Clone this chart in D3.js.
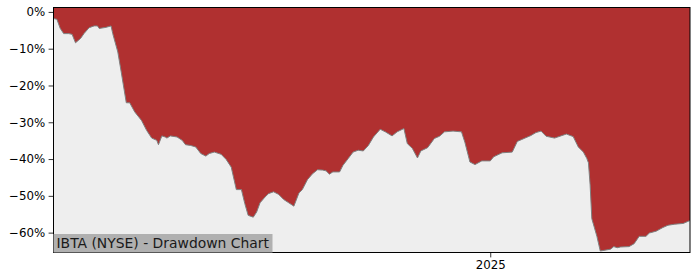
<!DOCTYPE html>
<html>
<head>
<meta charset="utf-8">
<script src="https://cdn.jsdelivr.net/npm/d3@7"></script>
<style>
  html, body { margin: 0; padding: 0; background: #ffffff; }
  svg { display: block; }
  text { font-family: "DejaVu Sans", sans-serif; }
</style>
</head>
<body>
<div id="chart"></div>
<script>
// ---- data ----
const dates = [
  "2024-04-18","2024-04-20","2024-04-22","2024-04-24","2024-04-27","2024-04-29","2024-05-01","2024-05-04",
  "2024-05-06","2024-05-09","2024-05-12","2024-05-14","2024-05-15","2024-05-19","2024-05-22","2024-05-23",
  "2024-05-26","2024-05-28","2024-05-31","2024-06-02","2024-06-05","2024-06-09","2024-06-12","2024-06-15",
  "2024-06-18","2024-06-19","2024-06-21","2024-06-23","2024-06-24","2024-06-26","2024-06-30","2024-07-03",
  "2024-07-05","2024-07-08","2024-07-11","2024-07-14","2024-07-17","2024-07-19","2024-07-22","2024-07-26",
  "2024-07-29","2024-08-01","2024-08-04","2024-08-07","2024-08-09","2024-08-11","2024-08-14","2024-08-16",
  "2024-08-18","2024-08-21","2024-08-23","2024-08-26","2024-08-29","2024-09-01","2024-09-04","2024-09-07",
  "2024-09-10","2024-09-12","2024-09-15","2024-09-18","2024-09-21","2024-09-24","2024-09-26","2024-09-28",
  "2024-09-30","2024-10-04","2024-10-06","2024-10-09","2024-10-12","2024-10-15","2024-10-18","2024-10-21",
  "2024-10-24","2024-10-28","2024-10-31","2024-11-04","2024-11-07","2024-11-11","2024-11-13","2024-11-16",
  "2024-11-19","2024-11-21","2024-11-25","2024-11-29","2024-12-02","2024-12-05","2024-12-10","2024-12-15",
  "2024-12-17","2024-12-20","2024-12-23","2024-12-27","2025-01-01","2025-01-03","2025-01-08","2025-01-14",
  "2025-01-17","2025-01-21","2025-01-25","2025-01-28","2025-01-31","2025-02-03","2025-02-08","2025-02-13",
  "2025-02-15","2025-02-19","2025-02-22","2025-02-25","2025-02-27","2025-02-28","2025-03-01","2025-03-02",
  "2025-03-05","2025-03-07","2025-03-13","2025-03-15","2025-03-17","2025-03-19","2025-03-24","2025-03-27",
  "2025-03-30","2025-04-03","2025-04-05","2025-04-09","2025-04-13","2025-04-16","2025-04-20","2025-04-25",
  "2025-04-29"
];
const drawdown = [
  -1.8, -2.0, -4.5, -5.9, -5.9, -6.1, -8.4, -7.2,
  -5.9, -4.3, -3.8, -3.8, -4.5, -4.2, -3.8, -5.9,
  -10.9, -16.3, -24.7, -24.7, -27.2, -29.5, -32.2, -34.3,
  -34.9, -36.1, -33.7, -34.0, -34.3, -33.7, -34.0, -34.9,
  -36.1, -36.3, -36.7, -38.5, -39.2, -38.5, -38.1, -38.7,
  -40.1, -42.2, -48.3, -48.3, -52.1, -55.3, -55.8, -54.4,
  -51.9, -50.3, -49.4, -48.9, -49.6, -51.0, -51.9, -52.8,
  -49.2, -48.3, -45.6, -44.0, -42.9, -43.0, -43.2, -44.1,
  -43.5, -43.5, -41.7, -39.9, -38.1, -37.6, -37.8, -36.3,
  -34.0, -31.9, -32.6, -33.7, -32.6, -31.7, -35.8, -37.1,
  -39.7, -37.8, -36.9, -34.4, -33.8, -32.6, -32.4, -32.6,
  -35.4, -40.8, -41.5, -40.5, -40.5, -39.4, -38.3, -38.1,
  -35.2, -34.4, -33.6, -32.8, -32.4, -33.8, -34.3, -33.5,
  -33.2, -33.9, -36.7, -38.1, -39.8, -41.0, -47.0, -56.2,
  -61.0, -65.0, -64.5, -63.8, -64.1, -63.9, -63.8, -63.0,
  -61.0, -61.0, -60.1, -59.6, -58.6, -58.0, -57.7, -57.5,
  -56.7
];
const yTicks = [0, -10, -20, -30, -40, -50, -60];
const xTickDates = ["2025-01-01"];
const xTickLabels = ["2025"];
const chartLabel = "IBTA (NYSE) - Drawdown Chart";
const yDomain = [-65.4, 1.2];

// ---- drawing ----
const W = 700, H = 280;
const margin = { left: 53.5, right: 10, top: 7.5, bottom: 27.5 };
const parse = d3.utcParse("%Y-%m-%d");
const data = dates.map((d, i) => ({ date: parse(d), v: drawdown[i] }));

const svg = d3.select("#chart").append("svg").attr("width", W).attr("height", H);

const x = d3.scaleUtc()
  .domain([parse(dates[0]), parse(dates[dates.length - 1])])
  .range([margin.left, W - margin.right]);
const y = d3.scaleLinear().domain(yDomain).range([H - margin.bottom, margin.top]);

// plot background
svg.append("rect")
  .attr("x", margin.left).attr("y", margin.top)
  .attr("width", W - margin.right - margin.left)
  .attr("height", H - margin.bottom - margin.top)
  .attr("fill", "#eeeeee");

const clip = svg.append("clipPath").attr("id", "clip").append("rect")
  .attr("x", margin.left).attr("y", margin.top)
  .attr("width", W - margin.right - margin.left)
  .attr("height", H - margin.bottom - margin.top);

const g = svg.append("g").attr("clip-path", "url(#clip)");

// drawdown area (filled from curve up to top of plot)
g.append("path")
  .datum(data)
  .attr("fill", "#b03030")
  .attr("d", d3.area().x(d => x(d.date)).y0(y(yDomain[1])).y1(d => y(d.v)));

g.append("path")
  .datum(data)
  .attr("fill", "none")
  .attr("stroke", "#7f7f7f")
  .attr("stroke-width", 1)
  .attr("d", d3.line().x(d => x(d.date)).y(d => y(d.v)));

// axes
const yAxis = d3.axisLeft(y).tickValues(yTicks)
  .tickFormat(d => (d < 0 ? "\u2212" + Math.abs(d) : d) + "%")
  .tickSize(4.9).tickPadding(3.5);
const yg = svg.append("g").attr("transform", `translate(${margin.left},0)`).call(yAxis);

const xAxis = d3.axisBottom(x).tickValues(xTickDates.map(parse))
  .tickFormat((d, i) => xTickLabels[i])
  .tickSize(4.9).tickPadding(3.5);
const xg = svg.append("g").attr("transform", `translate(0,${H - margin.bottom})`).call(xAxis);

[yg, xg].forEach(a => {
  a.select(".domain").remove();
  a.selectAll(".tick line").attr("stroke", "#000").attr("stroke-width", 0.8);
  a.selectAll(".tick text").attr("fill", "#000").style("font-size", "11.8px")
    .style("font-family", "'DejaVu Sans', sans-serif");
});

// frame
svg.append("rect")
  .attr("x", margin.left).attr("y", margin.top)
  .attr("width", W - margin.right - margin.left)
  .attr("height", H - margin.bottom - margin.top)
  .attr("fill", "none").attr("stroke", "#000").attr("stroke-width", 1);

// label box
const lbl = svg.append("g");
const t = lbl.append("text")
  .attr("x", margin.left + 3).attr("y", H - margin.bottom - 4.5)
  .style("font-size", "13.9px").attr("fill", "#1a1a1a")
  .text(chartLabel);
const bb = t.node().getBBox();
lbl.insert("rect", "text")
  .attr("x", margin.left).attr("y", bb.y - 1)
  .attr("width", bb.width + 6).attr("height", H - margin.bottom - bb.y + 1)
  .attr("fill", "#b0b0b0");
</script>
</body>
</html>
